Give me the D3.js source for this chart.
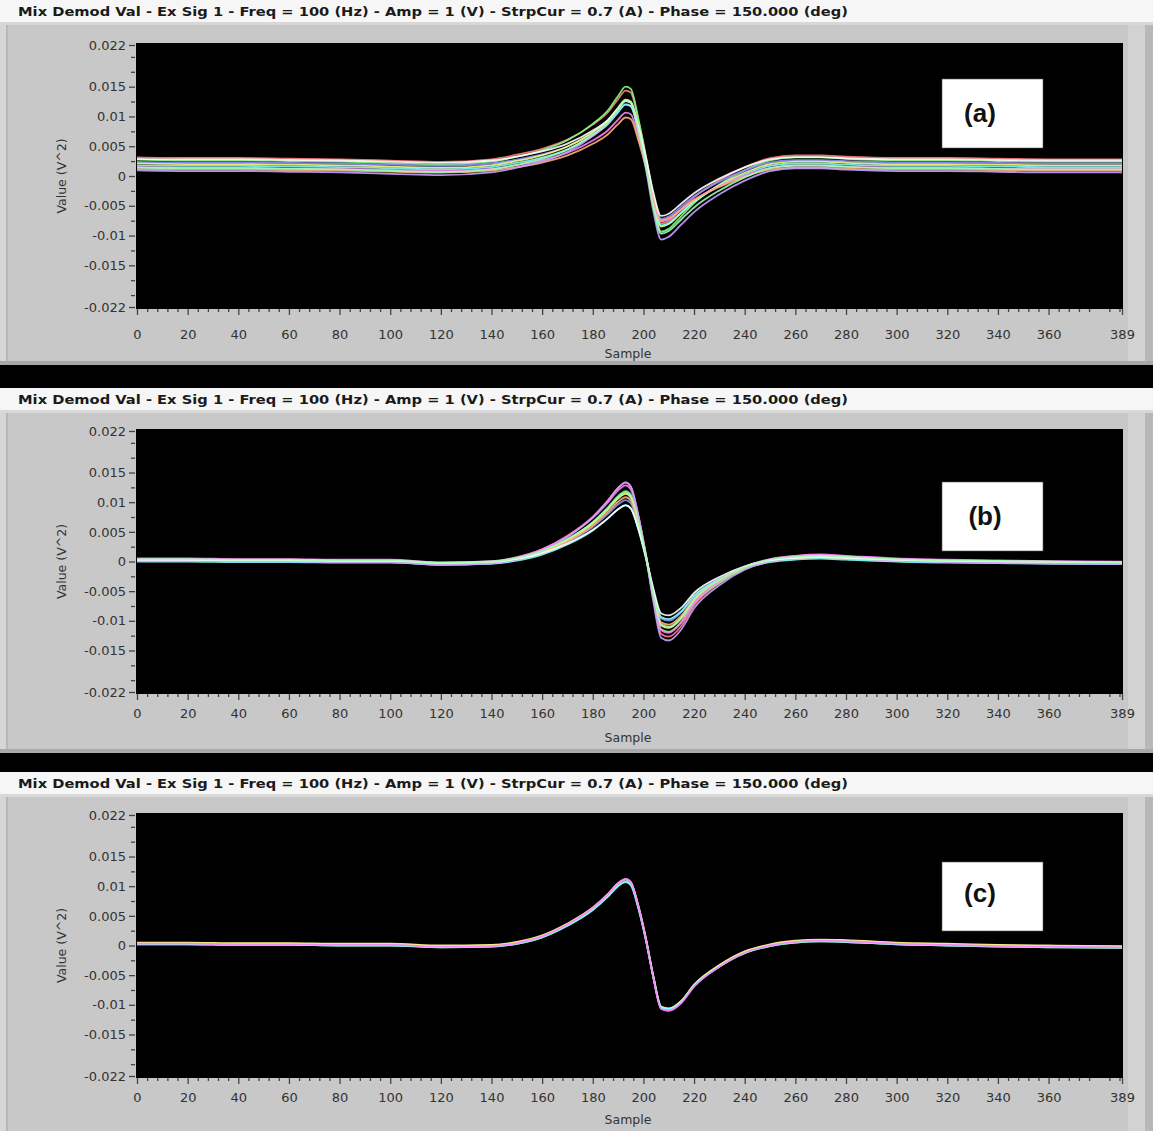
<!DOCTYPE html>
<html lang="en">
<head>
  <meta charset="UTF-8">
  <title>Mix Demod Val</title>
  <script src="https://d3js.org/d3.v7.min.js"></script>
  <style>
    body { margin: 0; padding: 0; background: #000; }
    svg { display: block; }
  </style>
</head>
<body>
  <div id="chart"></div>
  <script>
    // --- data ---
    const titleText = 'Mix Demod Val - Ex Sig 1 - Freq = 100 (Hz) - Amp = 1 (V) - StrpCur = 0.7 (A) - Phase = 150.000 (deg)';
    const panelLabels = ['(a)', '(b)', '(c)'];
    const xTicks = [0, 20, 40, 60, 80, 100, 120, 140, 160, 180, 200, 220, 240, 260, 280, 300, 320, 340, 360, 389];
    const yTicks = [0.022, 0.015, 0.01, 0.005, 0, -0.005, -0.01, -0.015, -0.022];
    const yTickLabels = ['0.022', '0.015', '0.01', '0.005', '0', '-0.005', '-0.01', '-0.015', '-0.022'];

    const sampleKnots = [0, 20, 40, 60, 80, 100, 120, 140, 150, 160, 170, 180, 186, 190, 193, 195, 198, 201, 204, 207, 210, 215, 220, 230, 240, 250, 260, 270, 280, 300, 320, 340, 360, 389];

    // shape of the bundle in each panel (values at sampleKnots)
    const baseA = [0.0003, 0.0002, 0.0002, 0.0001, 0, -0.0002, -0.0004, 0, 0.0007, 0.0016, 0.003, 0.0053, 0.0072, 0.0092, 0.0105, 0.0102, 0.006, 0.0005, -0.0058, -0.0098, -0.0094, -0.0076, -0.0058, -0.0032, -0.0012, 0.0002, 0.0006, 0.0006, 0.0004, 0.0002, 0.0002, 0.0001, 0, 0];
    const baseB = [0.0002, 0.0002, 0.0001, 0.0001, 0, 0, -0.0004, -0.0002, 0.0004, 0.0016, 0.0036, 0.0064, 0.0088, 0.0106, 0.0114, 0.0108, 0.0066, 0.0008, -0.0058, -0.0108, -0.0112, -0.0096, -0.0066, -0.0033, -0.0011, 0.0001, 0.0006, 0.0008, 0.0006, 0.0002, 0, -0.0001, -0.0002, -0.0003];
    const baseC = [0.0003, 0.0003, 0.0002, 0.0002, 0.0001, 0.0001, -0.0002, -0.0001, 0.0004, 0.0015, 0.0035, 0.0062, 0.0085, 0.0103, 0.011, 0.0105, 0.0065, 0.001, -0.0055, -0.0105, -0.0108, -0.0095, -0.0068, -0.0035, -0.0012, 0, 0.0006, 0.0008, 0.0007, 0.0003, 0.0001, -0.0001, -0.0002, -0.0003];

    // per-trace baseline and amplitude, estimated from the spread of each bundle
    const offsetsA = [0.0028, 0.0024, 0.0021, 0.0018, 0.0015, 0.0012, 0.0009, 0.0006, 0.0026, 0.0011];
    const gainsA = [1.1, 1.2, 0.95, 1.05, 1.0, 0.9, 0.85, 1.15, 0.95, 1.1];
    const offsetsB = [0.0002, -0.0001, 0.0001, 0, -0.0002, 0.0003, 0, -0.0001, 0.0001, 0.0002];
    const gainsB = [1.15, 1.05, 0.9, 1.0, 0.85, 1.1, 0.95, 1.18, 0.82, 1.0];
    const offsetsC = [0.0001, -0.0001, 0, 0.0002, -0.0001, 0];
    const gainsC = [1.0, 0.99, 1.01, 1.0, 0.98, 1.02];

    const traceColors = ['#ff8080', '#80ff80', '#9090ff', '#ffff80', '#80ffff', '#ff80ff', '#ffb070', '#c8a0ff', '#ffffff', '#a0ffb0'];

    // layout per panel (relative to each panel's top)
    const panels = [
      { label: panelLabels[0], base: baseA, offsets: offsetsA, gains: gainsA, top: 0, yTop: 45, yBot: 307, tickY: 339, sampleY: 358, boxY: 79, textY: 122, textX: 980 },
      { label: panelLabels[1], base: baseB, offsets: offsetsB, gains: gainsB, top: 388, yTop: 43, yBot: 304, tickY: 330, sampleY: 354, boxY: 94, textY: 137, textX: 985 },
      { label: panelLabels[2], base: baseC, offsets: offsetsC, gains: gainsC, top: 772, yTop: 43, yBot: 304, tickY: 330, sampleY: 352, boxY: 90, textY: 130, textX: 980 }
    ];

    const W = 1153, H = 1131;
    const svg = d3.select('#chart').append('svg')
      .attr('width', W).attr('height', H);

    svg.append('rect').attr('width', W).attr('height', H).attr('fill', '#000');

    const x = d3.scaleLinear().domain([0, 389]).range([137, 1122]);
    const line = d3.line().curve(d3.curveMonotoneX);
    const font = 'DejaVu Sans, Verdana, sans-serif';

    panels.forEach((p, pi) => {
      const g = svg.append('g').attr('transform', `translate(0,${p.top})`);
      const bottom = pi === 2 ? H - p.top : 365;

      // title bar
      g.append('rect').attr('x', 0).attr('y', 0).attr('width', W).attr('height', 22).attr('fill', '#f6f6f6');
      g.append('text')
        .attr('x', 18).attr('y', 16)
        .attr('font-family', font)
        .attr('font-weight', 'bold').attr('font-size', 12.5)
        .attr('fill', '#1a1a1a')
        .attr('textLength', 830).attr('lengthAdjust', 'spacingAndGlyphs')
        .text(titleText);

      // grey frame
      g.append('rect').attr('x', 0).attr('y', 22).attr('width', W).attr('height', bottom - 22).attr('fill', '#c8c8c8');
      g.append('rect').attr('x', 0).attr('y', 22).attr('width', 6).attr('height', bottom - 22).attr('fill', '#d6d6d6');
      g.append('rect').attr('x', 6).attr('y', 22).attr('width', 2).attr('height', bottom - 22).attr('fill', '#b8b8b8');
      g.append('rect').attr('x', 1128).attr('y', 22).attr('width', 25).attr('height', bottom - 22).attr('fill', '#d2d2d2');
      g.append('rect').attr('x', 1145).attr('y', 22).attr('width', 8).attr('height', bottom - 22).attr('fill', '#b8b8b8');
      g.append('rect').attr('x', 0).attr('y', 22).attr('width', W).attr('height', 3).attr('fill', '#d8d8d8');
      if (pi < 2) {
        g.append('rect').attr('x', 0).attr('y', bottom - 4).attr('width', W).attr('height', 4).attr('fill', '#a8a8a8');
      }

      const y = d3.scaleLinear().domain([-0.022, 0.022]).range([p.yBot, p.yTop]);

      // plot area
      g.append('rect').attr('x', 136).attr('y', p.yTop - 2).attr('width', 987).attr('height', p.yBot - p.yTop + 4).attr('fill', '#000');

      // y axis
      const yMinor = d3.range(-0.02, 0.0201, 0.0025).filter(v => !yTicks.some(t => Math.abs(t - v) < 1e-6));
      const yAxis = g.append('g').attr('transform', 'translate(135,0)');
      yAxis.call(d3.axisLeft(y).tickValues(yTicks).tickSize(6).tickFormat((d, i) => yTickLabels[i]));
      yAxis.append('g').call(d3.axisLeft(y).tickValues(yMinor).tickSize(4).tickFormat(''))
        .select('.domain').remove();
      yAxis.select('.domain').remove();

      // x axis
      const xMinor = d3.range(4, 389, 4).filter(v => v % 20 !== 0);
      const xAxis = g.append('g').attr('transform', `translate(0,${p.yBot + 2})`);
      xAxis.call(d3.axisBottom(x).tickValues(xTicks).tickSize(6).tickFormat(d3.format('d')));
      xAxis.append('g').call(d3.axisBottom(x).tickValues(xMinor).tickSize(3).tickFormat(''))
        .select('.domain').remove();
      xAxis.select('.domain').remove();

      g.selectAll('.tick line').attr('stroke', '#444').attr('stroke-width', 1.3);
      g.selectAll('.tick text')
        .attr('font-family', font)
        .attr('font-size', 13).attr('fill', '#333');
      xAxis.selectAll('.tick text').attr('y', 0).attr('dy', 0)
        .attr('transform', `translate(0,${p.tickY - p.yBot - 2})`);

      // axis titles
      g.append('text')
        .attr('transform', `translate(66,${(p.yTop + p.yBot) / 2}) rotate(-90)`)
        .attr('text-anchor', 'middle')
        .attr('font-family', font)
        .attr('font-size', 12.5).attr('fill', '#333')
        .text('Value (V^2)');
      g.append('text')
        .attr('x', 628).attr('y', p.sampleY)
        .attr('text-anchor', 'middle')
        .attr('font-family', font)
        .attr('font-size', 12.5).attr('fill', '#333')
        .text('Sample');

      // traces
      const traces = g.append('g');
      p.offsets.forEach((off, ti) => {
        const pts = sampleKnots.map((s, k) => [x(s), y(off + p.gains[ti] * p.base[k])]);
        traces.append('path')
          .attr('d', line(pts))
          .attr('fill', 'none')
          .attr('stroke', traceColors[ti % traceColors.length])
          .attr('stroke-width', 1.8)
          .attr('stroke-opacity', 0.9);
      });

      // panel label box
      g.append('rect')
        .attr('x', 942).attr('y', p.boxY)
        .attr('width', 101).attr('height', 69)
        .attr('fill', '#fff').attr('stroke', '#555').attr('stroke-width', 0.6);
      g.append('text')
        .attr('x', p.textX).attr('y', p.textY)
        .attr('text-anchor', 'middle')
        .attr('font-family', 'Liberation Sans, Arial, sans-serif')
        .attr('font-weight', 'bold').attr('font-size', 26)
        .attr('fill', '#111')
        .text(p.label);
    });
  </script>
</body>
</html>
